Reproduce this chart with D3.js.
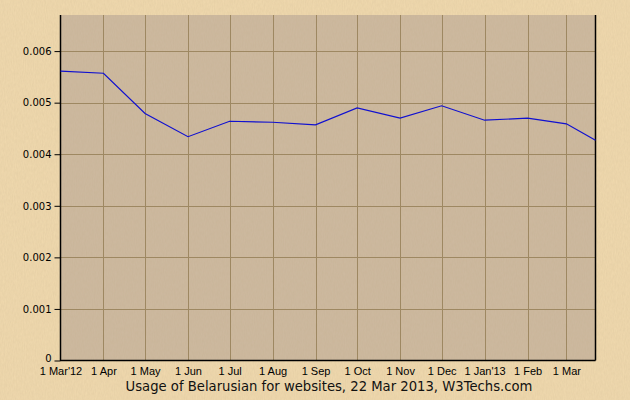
<!DOCTYPE html>
<html><head><meta charset="utf-8">
<script src="https://cdn.jsdelivr.net/npm/d3@7"></script>
<style>body{margin:0;background:#eed6ab;}svg{display:block;}</style>
</head><body>
<script>
const dates = ["2012-03-01","2012-04-01","2012-05-01","2012-06-01","2012-07-01","2012-08-01","2012-09-01","2012-10-01","2012-11-01","2012-12-01","2013-01-01","2013-02-01","2013-03-01","2013-03-22"];
const values = [0.00561,0.00557,0.00479,0.00434,0.00464,0.00462,0.00457,0.00490,0.00470,0.00494,0.00466,0.00470,0.00459,0.00427];
const tickDates = ["2012-03-01","2012-04-01","2012-05-01","2012-06-01","2012-07-01","2012-08-01","2012-09-01","2012-10-01","2012-11-01","2012-12-01","2013-01-01","2013-02-01","2013-03-01"];
const tickLabels = ["1 Mar'12","1 Apr","1 May","1 Jun","1 Jul","1 Aug","1 Sep","1 Oct","1 Nov","1 Dec","1 Jan'13","1 Feb","1 Mar"];
const yTicks = [0,0.001,0.002,0.003,0.004,0.005,0.006];
const title = "Usage of Belarusian for websites, 22 Mar 2013, W3Techs.com";

const W=630,H=400;
const parse=d3.utcParse("%Y-%m-%d");
const L=60.5,R=595.5,T=15,B=360.5;
const x=d3.scaleUtc().domain([parse(dates[0]),parse(dates[dates.length-1])]).range([L,R]);
const y=d3.scaleLinear().domain([0,0.0067]).range([B,T]);

const svg=d3.select("body").append("svg").attr("width",W).attr("height",H);
const defs=svg.append("defs");
const f=defs.append("filter").attr("id","paper").attr("x",0).attr("y",0).attr("width","100%").attr("height","100%");
f.append("feTurbulence").attr("type","fractalNoise").attr("baseFrequency","0.9 0.25").attr("numOctaves",3).attr("seed",4);
f.append("feColorMatrix").attr("type","matrix").attr("values","0 0 0 0 0.45  0 0 0 0 0.35  0 0 0 0 0.2  0 0 0 0.18 -0.02");
f.append("feComposite").attr("in2","SourceGraphic").attr("operator","in");

svg.append("rect").attr("width",W).attr("height",H).attr("fill","#efd8ad");
svg.append("rect").attr("width",W).attr("height",H).attr("fill","#efd8ad").attr("filter","url(#paper)");
svg.append("rect").attr("x",L).attr("y",T).attr("width",R-L).attr("height",B-T).attr("fill","#cdb99f");
svg.append("rect").attr("x",L).attr("y",T).attr("width",R-L).attr("height",B-T).attr("fill","#cdb99f").attr("filter","url(#paper)");

const grid="#9e8862";
svg.append("g").selectAll("line").data(yTicks.slice(1)).join("line")
  .attr("x1",L).attr("x2",R).attr("y1",d=>Math.round(y(d))+0.5).attr("y2",d=>Math.round(y(d))+0.5)
  .attr("stroke",grid).attr("stroke-width",1);
svg.append("g").selectAll("line").data(tickDates.slice(1)).join("line")
  .attr("x1",d=>Math.round(x(parse(d)))+0.5).attr("x2",d=>Math.round(x(parse(d)))+0.5).attr("y1",T).attr("y2",B)
  .attr("stroke",grid).attr("stroke-width",1);

const font="'DejaVu Sans', Verdana, sans-serif";
const yAxis=svg.append("g").attr("transform",`translate(${L},0)`)
  .call(d3.axisLeft(y).tickValues(yTicks).tickFormat(d=>d===0?"0":d3.format(".3f")(d)).tickSize(6).tickPadding(3));
yAxis.select(".domain").remove();
yAxis.selectAll("line").attr("stroke","#000");
yAxis.selectAll("text").attr("font-family",font).attr("font-size",10).attr("fill","#000");
yAxis.selectAll("text").filter(d=>d===0).attr("dy","0.1em");

const xAxis=svg.append("g").attr("transform",`translate(0,${B})`)
  .call(d3.axisBottom(x).tickValues(tickDates.map(parse)).tickFormat((d,i)=>tickLabels[i]).tickSize(0).tickPadding(6.5));
xAxis.select(".domain").remove();
xAxis.selectAll("text").attr("font-family","'Liberation Sans', Arial, sans-serif").attr("font-size",11).attr("fill","#000");

svg.append("line").attr("x1",L).attr("x2",L).attr("y1",T).attr("y2",B+0.5).attr("stroke","#000").attr("stroke-width",1.5);
svg.append("line").attr("x1",L).attr("x2",R).attr("y1",B).attr("y2",B).attr("stroke","#000").attr("stroke-width",1.5);
svg.append("line").attr("x1",R).attr("x2",R).attr("y1",T).attr("y2",B).attr("stroke","#000").attr("stroke-width",1.5);

const line=d3.line().x((d,i)=>x(parse(dates[i]))).y(d=>y(d));
svg.append("path").datum(values).attr("d",line).attr("fill","none").attr("stroke","#1010d0").attr("stroke-width",1.2);

svg.append("text").attr("x",(L+R)/2+1).attr("y",391).attr("text-anchor","middle")
  .attr("font-family",font).attr("font-size",13.2).attr("fill","#111").text(title);
</script>
</body></html>
